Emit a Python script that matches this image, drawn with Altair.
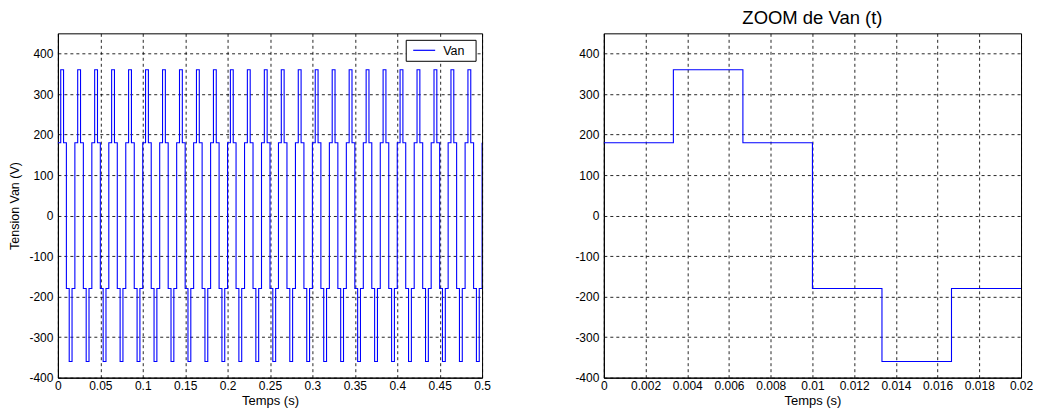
import altair as alt
import pandas as pd

# One period (T = 0.02 s) of the six-step phase voltage Van
period = 0.02
switch_times = [0.0, 0.02 / 6, 2 * 0.02 / 6, 3 * 0.02 / 6, 4 * 0.02 / 6, 5 * 0.02 / 6]
levels = [180, 360, 180, -180, -360, -180]
n_periods = 25

x_ticks_left = [0, 0.05, 0.1, 0.15, 0.2, 0.25, 0.3, 0.35, 0.4, 0.45, 0.5]
x_ticks_right = [0, 0.002, 0.004, 0.006, 0.008, 0.01, 0.012, 0.014, 0.016, 0.018, 0.02]
y_ticks = [-400, -300, -200, -100, 0, 100, 200, 300, 400]
legend_labels = ["Van"]

# Build tables from the arrays above
rows = []
for k in range(n_periods):
    for t, v in zip(switch_times, levels):
        rows.append({"t": k * period + t, "v": v})
rows.append({"t": n_periods * period, "v": levels[0]})
full = pd.DataFrame(rows)

zrows = [{"t": t, "v": v} for t, v in zip(switch_times, levels)]
zrows.append({"t": period, "v": levels[-1]})
zoom = pd.DataFrame(zrows)

leg = pd.DataFrame({"label": legend_labels})

FONT = "Liberation Sans"
BLUE = "#0000ff"
LBL = "'' + datum.value"
PLOT_H = 345

def yaxis(title):
    kw = dict(values=y_ticks, ticks=False, labelPadding=5, grid=True,
              labelExpr=LBL,
              gridColor="black", gridDash=[3, 3], gridOpacity=0.85,
              domainColor="black", labelFontSize=12, labelColor="black",
              labelFont=FONT, titleFont=FONT, titleFontSize=12.5,
              titleFontWeight="normal", titleColor="black", titlePadding=7)
    return alt.Axis(title=title, **kw) if title else alt.Axis(title=None, **kw)

def xaxis(values):
    return alt.Axis(title="Temps (s)", values=values, labelExpr=LBL, ticks=False,
                    labelPadding=3, grid=True, gridColor="black", gridDash=[3, 3],
                    gridOpacity=0.85, domainColor="black", labelFontSize=12,
                    labelColor="black", labelFont=FONT, titleFont=FONT,
                    titleFontSize=13, titleFontWeight="normal", titleColor="black",
                    titlePadding=3, labelFlush=False)

sig = alt.Chart(full).mark_line(
    interpolate="step-after", strokeWidth=1.1, color=BLUE, clip=True
).encode(
    x=alt.X("t:Q", scale=alt.Scale(domain=[0, 0.5], nice=False), axis=xaxis(x_ticks_left)),
    y=alt.Y("v:Q", scale=alt.Scale(domain=[-400, 450], nice=False), axis=yaxis("Tension Van (V)")),
)

leg_box = alt.Chart(leg).mark_rect(fill="white", stroke="black", strokeWidth=1).encode(
    x=alt.value(349), x2=alt.value(419), y=alt.value(7), y2=alt.value(28))
leg_line = alt.Chart(leg).mark_rule(color=BLUE, strokeWidth=1.2).encode(
    x=alt.value(356), x2=alt.value(378), y=alt.value(17))
leg_text = alt.Chart(leg).mark_text(align="left", baseline="middle", font=FONT,
                                    fontSize=12.5, color="black").encode(
    x=alt.value(386), y=alt.value(17.5), text="label:N")

left = alt.layer(sig, leg_box, leg_line, leg_text).properties(
    width=425, height=PLOT_H,
    title=alt.Title(" ", fontSize=18.5, font=FONT, offset=6))

right = alt.Chart(zoom).mark_line(
    interpolate="step-after", strokeWidth=1.1, color=BLUE, clip=True
).encode(
    x=alt.X("t:Q", scale=alt.Scale(domain=[0, 0.02], nice=False), axis=xaxis(x_ticks_right)),
    y=alt.Y("v:Q", scale=alt.Scale(domain=[-400, 450], nice=False), axis=yaxis(None)),
).properties(width=418, height=PLOT_H,
             title=alt.Title("ZOOM de Van (t)", fontSize=18.5, font=FONT,
                             fontWeight="normal", color="black", offset=6))

chart = alt.hconcat(left, right, spacing=83).configure_view(
    stroke="black", strokeWidth=1
).properties(padding=0, background="white")

chart.save("out.html", embed_options={"renderer": "svg", "actions": False})
